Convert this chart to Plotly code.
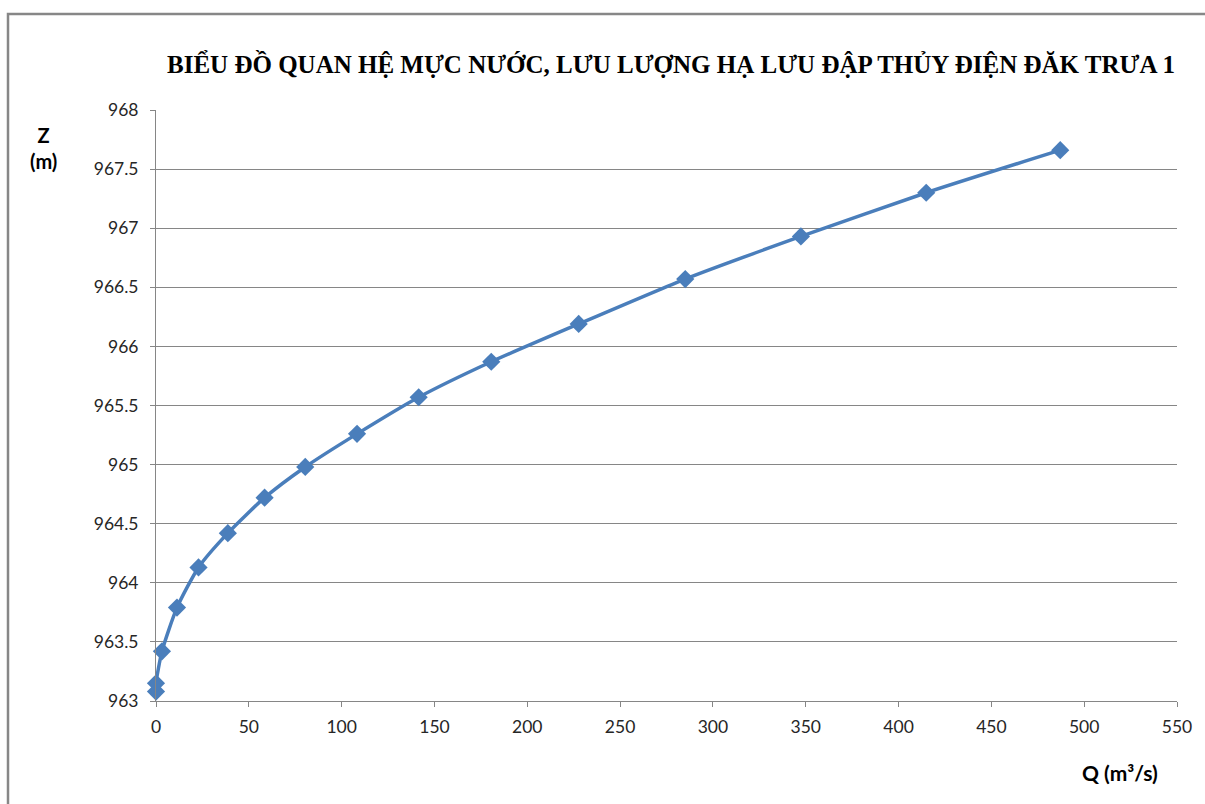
import plotly.graph_objects as go

# Discharge Q (m3/s) and downstream water level Z (m)
discharge = [0.0, 0.0, 3.2, 11.3, 22.9, 38.7, 58.5, 80.4, 108.3, 141.5, 180.6, 227.7, 285.1, 347.4, 414.9, 487.1]
water_level = [963.08, 963.15, 963.42, 963.79, 964.13, 964.42, 964.72, 964.98, 965.26, 965.57, 965.87, 966.19, 966.57, 966.93, 967.30, 967.66]

x_ticks = list(range(0, 551, 50))
y_ticks = [963, 963.5, 964, 964.5, 965, 965.5, 966, 966.5, 967, 967.5, 968]
y_tick_text = ["963", "963.5", "964", "964.5", "965", "965.5", "966", "966.5", "967", "967.5", "968"]

title_text = "BIỂU ĐỒ QUAN HỆ MỰC NƯỚC, LƯU LƯỢNG HẠ LƯU ĐẬP THỦY ĐIỆN ĐĂK TRƯA 1"

W, H = 1205, 804
ML, MR, MT, MB = 156, 28, 110, 103
PW, PH = W - ML - MR, H - MT - MB


def px_to_paper_x(px):
    return (px - ML) / PW


def px_to_paper_y(py):
    return (H - MB - py) / PH


fig = go.Figure()
fig.add_trace(go.Scatter(
    x=discharge, y=water_level,
    mode="lines+markers",
    line=dict(color="#4A7EBB", width=3.5, shape="spline", smoothing=0.6),
    marker=dict(symbol="diamond", size=14, color="#4A7EBB"),
    cliponaxis=False,
    showlegend=False,
))

tick_font = dict(family="Lato, 'Open Sans', sans-serif", size=17.5, color="#262626")

fig.update_layout(
    width=W, height=H,
    margin=dict(l=ML, r=MR, t=MT, b=MB),
    paper_bgcolor="white",
    plot_bgcolor="white",
    xaxis=dict(
        range=[0, 550], tickvals=x_ticks, showgrid=False,
        showline=True, linecolor="#868686", linewidth=1,
        ticks="outside", ticklen=5, tickcolor="#868686",
        tickfont=tick_font, zeroline=False, ticklabelstandoff=5,
    ),
    yaxis=dict(
        range=[963, 968], tickvals=y_ticks, ticktext=y_tick_text,
        showgrid=True, gridcolor="#868686", gridwidth=1,
        showline=True, linecolor="#868686", linewidth=1,
        ticks="outside", ticklen=5, tickcolor="#868686",
        tickfont=tick_font, zeroline=False, ticklabelstandoff=8,
    ),
    shapes=[
        dict(type="rect", xref="paper", yref="paper",
             x0=px_to_paper_x(8), x1=px_to_paper_x(1260),
             y0=px_to_paper_y(860), y1=px_to_paper_y(14),
             line=dict(color="#878787", width=2.5), fillcolor="rgba(0,0,0,0)",
             layer="below"),
    ],
    annotations=[
        dict(text="<b>" + title_text + "</b>", xref="paper", yref="paper",
             x=px_to_paper_x(671), y=px_to_paper_y(64), showarrow=False,
             xanchor="center", yanchor="middle",
             font=dict(family="'Liberation Serif', 'Times New Roman', serif", size=25, color="black")),
        dict(text="<b>Z<br>(m)</b>", xref="paper", yref="paper",
             x=px_to_paper_x(43), y=px_to_paper_y(148), showarrow=False,
             xanchor="center", yanchor="middle", align="center",
             font=dict(family="Lato, 'Open Sans', sans-serif", size=20, color="black")),
        dict(text="<b>Q (m³/s)</b>", xref="paper", yref="paper",
             x=px_to_paper_x(1120), y=px_to_paper_y(772), showarrow=False,
             xanchor="center", yanchor="middle",
             font=dict(family="Lato, 'Open Sans', sans-serif", size=21, color="black")),
    ],
)

fig.write_html("out.html")
